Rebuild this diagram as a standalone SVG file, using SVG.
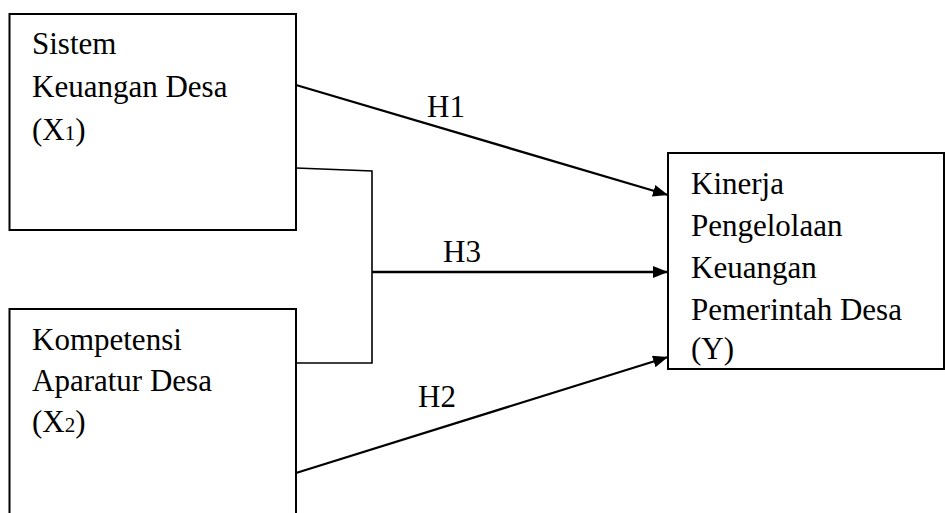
<svg xmlns="http://www.w3.org/2000/svg" width="945" height="513" viewBox="0 0 945 513">
<defs>
<style>
.box{fill:#fff;stroke:#000;stroke-width:2}
.t{font-family:"Liberation Serif","Times New Roman",serif;font-size:31px;fill:#000}
.sub{font-size:21px}
.ln{fill:none;stroke:#000;stroke-width:2.3}
.br{fill:none;stroke:#000;stroke-width:1.6}
</style>
<marker id="ah" viewBox="0 0 15 12" refX="15" refY="6" markerWidth="15" markerHeight="12" markerUnits="userSpaceOnUse" orient="auto">
<path d="M0,0 L15,6 L0,12 Z" fill="#000"/>
</marker>
</defs>
<rect width="945" height="513" fill="#fff"/>
<g id="connectors">
<line class="ln" x1="296" y1="85" x2="668" y2="195" marker-end="url(#ah)"/>
<polyline class="br" points="296,168 372,171 372,363 296,363"/>
<line class="ln" x1="372" y1="272" x2="668" y2="272" marker-end="url(#ah)"/>
<line class="ln" x1="296" y1="473" x2="668" y2="357" marker-end="url(#ah)"/>
<text class="t" x="427" y="117">H1</text>
<text class="t" x="443" y="262">H3</text>
<text class="t" x="418" y="407">H2</text>
</g>
<g id="x1">
<rect class="box" x="9.5" y="14" width="286.5" height="216"/>
<text class="t" x="32" y="54">Sistem</text>
<text class="t" x="32" y="97">Keuangan Desa</text>
<text class="t" x="32" y="140">(X<tspan class="sub">1</tspan>)</text>
</g>
<g id="x2">
<rect class="box" x="9.5" y="309" width="286.5" height="220"/>
<text class="t" x="32" y="350">Kompetensi</text>
<text class="t" x="32" y="391">Aparatur Desa</text>
<text class="t" x="32" y="432">(X<tspan class="sub">2</tspan>)</text>
</g>
<g id="y">
<rect class="box" x="668" y="153" width="276" height="216"/>
<text class="t" x="691" y="194">Kinerja</text>
<text class="t" x="691" y="236">Pengelolaan</text>
<text class="t" x="691" y="278">Keuangan</text>
<text class="t" x="691" y="320">Pemerintah Desa</text>
<text class="t" x="691" y="359">(Y)</text>
</g>
</svg>
